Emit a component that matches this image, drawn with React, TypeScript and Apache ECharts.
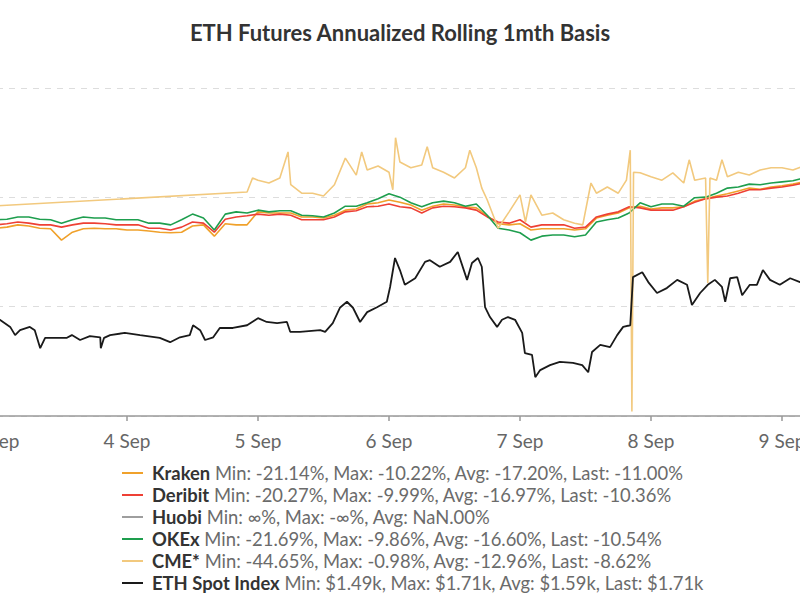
import React, { useEffect, useRef } from "react";
import * as echarts from "echarts";

// x positions: hours since 3 Sep 00:00 (UTC), every 2 hours
const hours = Array.from({ length: 75 }, (_, i) => i * 2);

const kraken = [
  -18.8, -18.6, -18.2, -18.4, -18.8, -18.9, -20.9, -19.5, -18.9, -18.8,
  -18.9, -18.9, -19.1, -19.1, -19.3, -19.5, -19.6, -19.5, -18.4, -18.2,
  -20.2, -18.0, -18.2, -18.2, -15.9, -16.1, -16.1, -16.1, -16.8, -16.8,
  -17.0, -16.5, -15.6, -15.4, -14.5, -14.3, -13.8, -14.2, -14.7, -15.6,
  -14.9, -14.5, -14.7, -15.0, -15.2, -16.6, -18.0, -18.2, -18.0, -19.1,
  -18.9, -18.9, -18.9, -19.1, -18.9, -17.0, -16.5, -16.1, -15.2, -14.9,
  -15.4, -15.2, -15.2, -15.0, -14.0, -13.6, -13.1, -12.7, -12.2, -11.7,
  -11.9, -11.5, -11.3, -11.0, -10.6,
];

const deribit = [
  -18.2, -18.0, -17.7, -17.9, -18.2, -18.2, -18.6, -18.2, -17.9, -17.9,
  -18.0, -18.2, -18.2, -18.2, -18.8, -18.8, -19.1, -18.6, -17.7, -17.9,
  -19.5, -17.2, -16.8, -16.6, -16.3, -16.5, -16.3, -16.5, -17.3, -17.3,
  -17.3, -16.8, -15.9, -15.7, -15.0, -14.9, -14.5, -15.0, -15.2, -16.1,
  -15.2, -14.9, -15.0, -15.2, -15.6, -16.8, -17.7, -17.9, -17.3, -18.6,
  -18.2, -18.2, -18.2, -18.8, -18.6, -16.8, -16.3, -15.9, -15.0, -15.2,
  -15.6, -15.6, -15.6, -15.0, -14.2, -13.6, -13.3, -13.1, -12.6, -12.0,
  -12.0, -11.7, -11.5, -11.2, -10.8,
];

const huobi: number[] = [];

const okex = [
  -17.3, -17.2, -16.8, -16.8, -17.2, -17.3, -17.9, -17.3, -16.8, -17.0,
  -17.0, -17.3, -17.3, -17.3, -17.9, -17.9, -18.2, -17.3, -16.3, -17.0,
  -19.1, -16.3, -15.9, -16.1, -15.6, -15.9, -15.7, -15.7, -16.5, -16.6,
  -16.8, -16.1, -14.9, -14.9, -14.3, -13.6, -12.7, -13.3, -14.3, -15.0,
  -14.3, -14.0, -14.3, -14.9, -14.5, -16.5, -18.8, -19.1, -19.6, -20.9,
  -20.2, -20.0, -20.0, -20.3, -20.0, -17.7, -17.3, -17.0, -16.1, -14.3,
  -15.0, -14.5, -14.5, -14.9, -13.4, -13.3, -12.6, -11.7, -11.5, -11.0,
  -11.1, -10.8, -10.6, -10.4, -9.9,
];

const cmeHours = [
  -3, 46, 47, 48, 50, 52, 53.5, 54, 56, 58, 60, 62, 64, 66, 67, 68, 70, 72,
  72.7, 73.2, 74, 76, 78, 79, 80, 82, 84, 86, 86.8, 88, 89, 90, 92, 94, 96,
  97, 98, 100, 102, 104, 106, 107.5, 109, 110, 112, 114, 115.5, 116.2, 116.5,
  116.8, 118, 120, 122, 124, 126, 127, 128, 130, 130.4, 130.8, 132, 133, 134,
  136, 138, 140, 142, 144, 146, 148,
];
const cme = [
  -15.0, -12.4, -9.9, -10.3, -10.8, -9.9, -5.3, -11.1, -12.6, -12.6, -13.1,
  -11.1, -6.4, -9.4, -5.3, -8.5, -7.8, -8.9, -12.0, -2.8, -7.1, -8.1, -7.6,
  -4.4, -8.1, -8.9, -9.9, -8.1, -5.0, -8.1, -11.7, -13.8, -18.8, -15.9, -12.9,
  -17.7, -12.9, -16.5, -16.1, -17.3, -17.9, -18.2, -10.8, -12.6, -11.5, -12.6,
  -10.3, -5.0, -51.2, -8.9, -9.0, -9.7, -10.3, -9.0, -10.8, -6.7, -10.3, -9.9,
  -28.5, -9.9, -10.3, -6.7, -9.7, -8.9, -9.4, -8.5, -8.1, -8.1, -8.5, -7.8,
];

const spotHours = [
  -1, 0.7, 2.6, 3.5, 4.4, 6.2, 7.1, 8.1, 9.0, 13.0, 13.9, 15.4, 17.2, 19.1,
  19.2, 19.8, 20.9, 23.6, 26.4, 30.0, 31.9, 33.7, 35.5, 36.1, 37.4, 38.3,
  39.8, 41.0, 43.4, 46.0, 48.0, 49.6, 51.5, 53.3, 53.9, 55.7, 59.4, 60.3,
  61.7, 63.0, 64.3, 65.4, 66.7, 68.0, 69.8, 71.6, 72.2, 73.1, 74.0, 74.9,
  76.8, 78.6, 79.5, 81.3, 83.2, 84.6, 86.3, 87.2, 88.3, 89.0, 89.6, 90.5,
  91.8, 92.7, 93.8, 95.1, 96.4, 96.9, 98.2, 98.8, 99.7, 101.5, 103.3, 105.7,
  107.4, 108.5, 109.2, 110.7, 112.5, 113.8, 114.9, 116.2, 116.7, 118.4,
  119.5, 121.1, 122.9, 124.8, 126.6, 127.5, 129.0, 130.4, 131.7, 133.0,
  133.6, 134.5, 135.8, 136.7, 138.1, 139.4, 140.5, 141.8, 143.6, 145.5,
  147.3, 149.1,
];
const spot = [
  1585, 1576, 1563, 1548, 1557, 1563, 1557, 1524, 1543, 1543, 1548, 1539,
  1546, 1544, 1524, 1543, 1548, 1552, 1548, 1543, 1535, 1544, 1548, 1566,
  1557, 1539, 1544, 1561, 1561, 1566, 1579, 1572, 1570, 1572, 1554, 1554,
  1557, 1554, 1570, 1598, 1609, 1598, 1572, 1590, 1599, 1609, 1636, 1689,
  1667, 1640, 1652, 1682, 1685, 1673, 1682, 1700, 1649, 1680, 1689, 1673,
  1599, 1581, 1563, 1576, 1581, 1576, 1552, 1515, 1512, 1471, 1484, 1493,
  1499, 1497, 1493, 1480, 1517, 1530, 1526, 1548, 1563, 1566, 1654, 1663,
  1645, 1625, 1634, 1649, 1640, 1603, 1625, 1640, 1649, 1636, 1609, 1652,
  1654, 1621, 1640, 1640, 1667, 1649, 1640, 1652, 1645, 1649,
];

const seriesNames = ["Kraken", "Deribit", "Huobi", "OKEx", "CME*", "ETH Spot Index"];
const seriesColors = ["#F0A12B", "#EE4035", "#9E9E9E", "#1E9E4E", "#F2C97E", "#1A1A1A"];
const legendStats = [
  "Min: -21.14%, Max: -10.22%, Avg: -17.20%, Last: -11.00%",
  "Min: -20.27%, Max: -9.99%, Avg: -16.97%, Last: -10.36%",
  "Min: \u221e%, Max: -\u221e%, Avg: NaN.00%",
  "Min: -21.69%, Max: -9.86%, Avg: -16.60%, Last: -10.54%",
  "Min: -44.65%, Max: -0.98%, Avg: -12.96%, Last: -8.62%",
  "Min: $1.49k, Max: $1.71k, Avg: $1.59k, Last: $1.71k",
];

const FONT = "Lato, 'Noto Sans', sans-serif";
// the chart is wider than the page; the page shows a crop of it
const OFFSET = 135;
const CHART_W = 800 + 2 * OFFSET;

export default function App() {
  const ref = useRef<HTMLDivElement>(null);

  useEffect(() => {
    if (!ref.current) return;
    const chart = echarts.init(ref.current, undefined, { renderer: "svg" });

    const pair = (xs: number[], ys: number[]) => ys.map((v, i) => [xs[i], v]);
    const basisData = [kraken, deribit, huobi, okex];

    const series: any[] = [];
    basisData.forEach((arr, i) => {
      series.push({
        name: seriesNames[i],
        type: "line",
        yAxisIndex: 0,
        data: pair(hours, arr),
        showSymbol: false,
        symbol: "none",
        lineStyle: { width: 1.6, color: seriesColors[i] },
        itemStyle: { color: seriesColors[i] },
      });
    });
    series.push({
      name: seriesNames[4],
      type: "line",
      yAxisIndex: 0,
      data: pair(cmeHours, cme),
      showSymbol: false,
      symbol: "none",
      lineStyle: { width: 1.6, color: seriesColors[4] },
      itemStyle: { color: seriesColors[4] },
    });
    series.push({
      name: seriesNames[5],
      type: "line",
      yAxisIndex: 1,
      data: pair(spotHours, spot),
      showSymbol: false,
      symbol: "none",
      lineStyle: { width: 1.8, color: seriesColors[5] },
      itemStyle: { color: seriesColors[5] },
    });

    chart.setOption({
      animation: false,
      backgroundColor: "#ffffff",
      textStyle: { fontFamily: FONT },
      title: {
        text: "ETH Futures Annualized Rolling 1mth Basis",
        left: "center",
        top: 16,
        textStyle: { fontFamily: FONT, fontSize: 22, fontWeight: "bold", color: "#333333" },
      },
      legend: {
        orient: "vertical",
        left: 122 + OFFSET,
        top: 464,
        padding: 0,
        itemGap: 4,
        itemWidth: 21,
        itemHeight: 2,
        icon: "rect",
        data: seriesNames,
        formatter: (name: string) => {
          const i = seriesNames.indexOf(name);
          return `{b|${name}} {n|${legendStats[i]}}`;
        },
        textStyle: {
          fontFamily: FONT,
          fontSize: 18.4,
          padding: [0, 0, 0, 4],
          rich: {
            b: { fontFamily: FONT, fontSize: 18.4, fontWeight: "bold", color: "#333333" },
            n: { fontFamily: FONT, fontSize: 18.4, color: "#6b6b6b" },
          },
        },
      },
      grid: {
        left: OFFSET - 135,
        right: CHART_W - (913 + OFFSET),
        top: 88,
        bottom: 184,
        containLabel: false,
        outerBoundsMode: "none",
      },
      xAxis: {
        type: "value",
        min: -24,
        max: 168,
        interval: 24,
        axisLine: { show: true, onZero: false, lineStyle: { color: "#999999", width: 1.5 } },
        axisTick: { show: true, length: 5, lineStyle: { color: "#999999", width: 1.5 } },
        axisLabel: {
          fontFamily: FONT,
          fontSize: 19,
          color: "#666666",
          margin: 15,
          showMinLabel: false,
          showMaxLabel: false,
          formatter: (v: number) => `${3 + v / 24} Sep`,
        },
        splitLine: { show: false },
      },
      yAxis: [
        {
          type: "value",
          min: -52,
          max: 6,
          axisLine: { show: false },
          axisTick: { show: false },
          axisLabel: { show: false },
          splitLine: { show: false },
        },
        {
          type: "value",
          position: "right",
          min: 1400,
          max: 2000,
          interval: 200,
          axisLine: { show: false },
          axisTick: { show: false },
          axisLabel: { show: false },
          splitLine: { show: true, lineStyle: { color: "#dddddd", type: [6, 6], width: 1 } },
        },
      ],
      series,
    });

    return () => chart.dispose();
  }, []);

  return (
    <div
      ref={ref}
      style={{ position: "fixed", left: -OFFSET, top: 0, width: CHART_W, height: 600, background: "#fff" }}
    />
  );
}
